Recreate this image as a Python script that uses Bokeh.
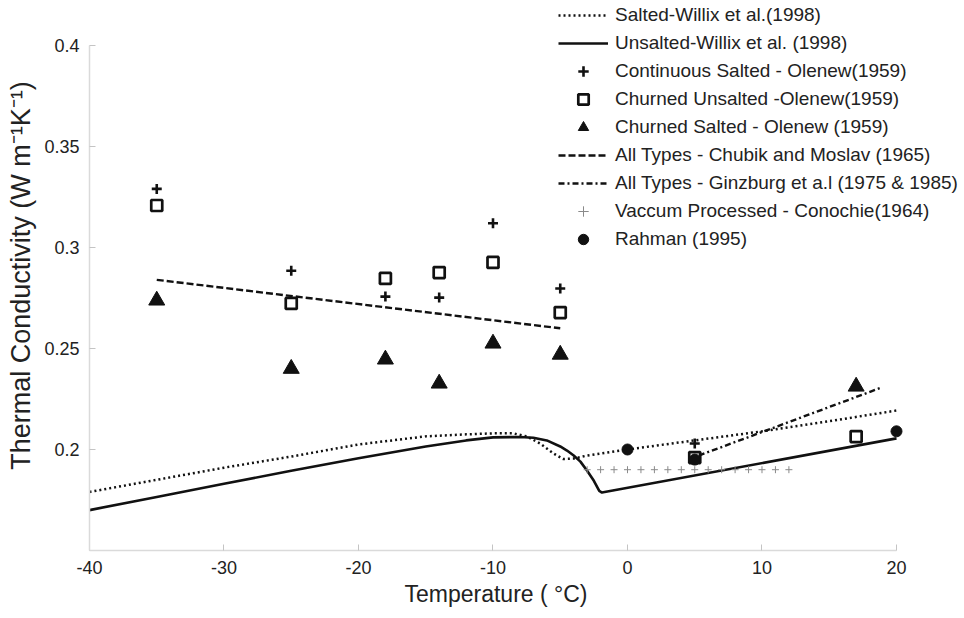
from bokeh.plotting import figure
from bokeh.models import Legend, LegendItem, FixedTicker, CustomJSTickFormatter, Range1d, Title
from bokeh.embed import file_html
from bokeh.resources import INLINE

# ---- data ----
salted_T = [-40, -35, -30, -25, -20, -15, -12, -10, -8.5, -7.5, -6.5, -5.5, -4.8, -4, -3, 0, 5, 10, 15, 20]
salted_k = [0.179, 0.185, 0.191, 0.1965, 0.2025, 0.2065, 0.2075, 0.208, 0.208, 0.2065, 0.203, 0.198,
            0.1953, 0.1955, 0.197, 0.2, 0.2045, 0.209, 0.214, 0.2193]

unsalted_T = [-40, -35, -30, -25, -20, -15, -12, -10, -8, -7, -6, -5, -4.5, -4, -3.5, -3, -2.5, -2.1, -1.9, 20]
unsalted_k = [0.170, 0.1765, 0.183, 0.1895, 0.1957, 0.2015, 0.2045, 0.206, 0.2062, 0.2058, 0.2045, 0.2015,
              0.1995, 0.197, 0.194, 0.1895, 0.1845, 0.1795, 0.1787, 0.2055]

cont_salted_T = [-35, -25, -18, -14, -10, -5, 5]
cont_salted_k = [0.329, 0.2885, 0.2757, 0.2752, 0.312, 0.2797, 0.203]

churn_unsalted_T = [-35, -25, -18, -14, -10, -5, 5, 17]
churn_unsalted_k = [0.3208, 0.2723, 0.2847, 0.2876, 0.2926, 0.2678, 0.196, 0.2064]

churn_salted_T = [-35, -25, -18, -14, -10, -5, 17]
churn_salted_k = [0.2738, 0.240, 0.2446, 0.2327, 0.2525, 0.247, 0.2312]

chubik_T = [-35, -5]
chubik_k = [0.284, 0.260]

ginzburg_T = [5.3, 18.9]
ginzburg_k = [0.197, 0.2307]

vaccum_T = [-3, -2, -1, 0, 1, 2, 3, 4, 5, 6, 7, 8, 9, 10, 11, 12]
vaccum_k = [0.19, 0.19, 0.19, 0.19, 0.19, 0.19, 0.19, 0.19, 0.19, 0.19, 0.19, 0.19, 0.19, 0.19, 0.19, 0.19]

rahman_T = [0, 5, 20]
rahman_k = [0.2, 0.195, 0.209]

x_ticks = [-40, -30, -20, -10, 0, 10, 20]
y_ticks = [0.2, 0.25, 0.3, 0.35, 0.4]
x_axis_span = (-40, 20)
y_axis_span = (0.15, 0.4)

FONT = "Liberation Sans"
INK = "#111111"

# frame covers the whole area to the right/top so the legend (which sits partly
# above/right of the axes) is not clipped; the axis lines are limited with bounds
p = figure(width=964, height=618, output_backend="svg", toolbar_location=None,
           x_range=Range1d(-40, 25.056), y_range=Range1d(0.15, 0.42228),
           min_border_left=89, min_border_right=0, min_border_top=0, min_border_bottom=68)
p.outline_line_color = None
p.grid.visible = False
p.background_fill_color = "white"
p.border_fill_color = "white"

r_salted = p.line(salted_T, salted_k, line_color=INK, line_width=2.5, line_dash="2 3")
r_unsalted = p.line(unsalted_T, unsalted_k, line_color=INK, line_width=2.6)
r_chubik = p.line(chubik_T, chubik_k, line_color=INK, line_width=2.4, line_dash="7 3")
r_ginz = p.line(ginzburg_T, ginzburg_k, line_color=INK, line_width=2.4, line_dash="6 3 2 3")
r_vac = p.scatter(vaccum_T, vaccum_k, marker="cross", size=7, line_color="#8a8a8a", line_width=1)
r_cont = p.scatter(cont_salted_T, cont_salted_k, marker="cross", size=10, line_color=INK, line_width=2.6)
r_cu = p.scatter(churn_unsalted_T, churn_unsalted_k, marker="square", size=11, line_color=INK,
                 fill_color=None, line_width=2.7)
r_cs = p.scatter(churn_salted_T, churn_salted_k, marker="triangle", size=16, line_color=INK,
                 fill_color=INK, line_width=1)
r_rah = p.scatter(rahman_T, rahman_k, marker="circle", size=11, line_color=INK, fill_color=INK)

xa = p.xaxis[0]
ya = p.yaxis[0]
for ax in (xa, ya):
    ax.axis_line_color = "#dadada"
    ax.axis_line_width = 1.5
    ax.major_tick_line_color = "#c4c4c4"
    ax.major_tick_in = 6
    ax.major_tick_out = 0
    ax.minor_tick_line_color = None
    ax.major_label_text_font = FONT
    ax.major_label_text_font_size = "18px"
    ax.major_label_text_color = "#222222"
    ax.axis_label_text_font = FONT
    ax.axis_label_text_font_style = "normal"
    ax.axis_label_text_color = "#222222"

xa.bounds = x_axis_span
xa.ticker = FixedTicker(ticks=x_ticks)
xa.formatter = CustomJSTickFormatter(code="return tick.toFixed(0);")
xa.major_label_standoff = 10

# x-axis title, placed under the middle of the bounded axis (not the wider frame)
x_title = Title(text="Temperature ( \u00b0C)", align="left", offset=315,
                text_font=FONT, text_font_size="23px", text_font_style="normal",
                text_color="#222222", standoff=5)
p.add_layout(x_title, "below")

ya.bounds = y_axis_span
ya.ticker = FixedTicker(ticks=y_ticks)
ya.formatter = CustomJSTickFormatter(code="return (Math.round(tick*100)/100).toString();")
ya.major_label_standoff = 10
ya.axis_label = "Thermal Conductivity (W m\u207b\u00b9K\u207b\u00b9)"
ya.axis_label_text_font_size = "27px"
ya.axis_label_standoff = 5

items = [
    LegendItem(label="Salted-Willix et al.(1998)", renderers=[r_salted]),
    LegendItem(label="Unsalted-Willix et al. (1998)", renderers=[r_unsalted]),
    LegendItem(label="Continuous Salted - Olenew(1959)", renderers=[r_cont]),
    LegendItem(label="Churned Unsalted -Olenew(1959)", renderers=[r_cu]),
    LegendItem(label="Churned Salted - Olenew (1959)", renderers=[r_cs]),
    LegendItem(label="All Types - Chubik and Moslav (1965)", renderers=[r_chubik]),
    LegendItem(label="All Types - Ginzburg et a.l (1975 & 1985)", renderers=[r_ginz]),
    LegendItem(label="Vaccum Processed - Conochie(1964)", renderers=[r_vac]),
    LegendItem(label="Rahman (1995)", renderers=[r_rah]),
]
legend = Legend(items=items, location=(469, 298), border_line_color=None,
                background_fill_alpha=0, label_text_font=FONT, label_text_font_size="19px",
                label_text_color="#222222", glyph_width=50, glyph_height=26, label_height=26,
                spacing=2, padding=0, margin=0, label_standoff=7)
p.add_layout(legend)

open("out.html", "w").write(file_html(p, INLINE))
